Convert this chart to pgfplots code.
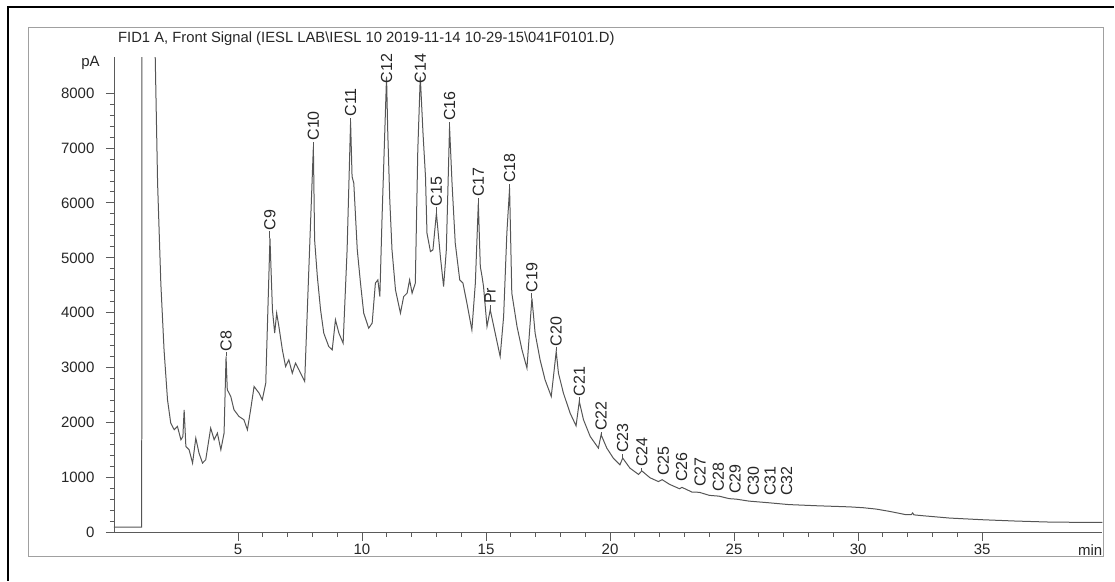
\documentclass[border=0pt]{standalone}
\usepackage{fontspec}
\setmainfont{Liberation Sans}
\usepackage{pgfplots}
\pgfplotsset{compat=1.18}
\definecolor{curve}{HTML}{555555}
\definecolor{txt}{HTML}{262626}
\definecolor{ax}{HTML}{5A5A5A}
\definecolor{framec}{HTML}{A0A0A0}
\newcommand{\lbl}{\fontsize{16}{18}\selectfont}
\newcommand{\pk}[4]{\draw[curve, line width=1pt] (axis cs:#1,#2) -- ++(0pt,#3pt) node[rotate=90, anchor=west, inner sep=0.6pt, font=\lbl, text=txt] {#4};}
\newcommand{\pl}[3]{\node[rotate=90, anchor=west, inner sep=0.6pt, font=\lbl, text=txt] at (axis cs:#1,#2) {#3};}
\begin{document}
\begin{tikzpicture}[x=1pt,y=1pt]
\path (0,0) rectangle (1115,581);
\draw[black, line width=1.2pt] (8,0) -- (8,574) -- (1115,574);
\draw[framec, line width=1pt] (29,24) rectangle (1104,553);
\node[anchor=base west, font=\fontsize{14.8}{16}\selectfont, text=txt, inner sep=0] at (118,538) {FID1 A, Front Signal (IESL LAB\textbackslash IESL 10 2019-11-14 10-29-15\textbackslash 041F0101.D)};
\begin{axis}[
  at={(114pt,48pt)}, anchor=south west, scale only axis,
  width=989pt, height=475.75pt,
  xmin=0, xmax=39.85, ymin=0, ymax=8650,
  axis x line=bottom, axis y line=left,
  axis line style={-, ax, line width=0.8pt},
  xtick={5,10,...,35}, ytick={0,1000,...,8000},
  minor x tick num=4, minor y tick num=4,
  tick align=outside, major tick length=8pt, minor tick length=4pt,
  tick style={ax, line width=0.8pt},
  ticklabel style={font=\fontsize{15}{17}\selectfont, text=txt},
  yticklabel style={xshift=-8pt},
  /pgf/number format/assume math mode=true,
  /pgf/number format/1000 sep={},
  clip mode=individual,
]
\addplot[curve, line width=1pt, mark=none] coordinates {
(0,100) (1.12,100) (1.13,14000) (1.64,14000) (1.65,9000) (1.76,6358) (1.89,4540)
(2.02,3327) (2.16,2418) (2.29,1994) (2.43,1873) (2.56,1933) (2.70,1691) (2.78,1750)
(2.83,2236) (2.90,1570) (3.03,1509) (3.17,1267) (3.30,1721) (3.43,1448) (3.57,1267)
(3.70,1327) (3.90,1903) (4.04,1691) (4.17,1812) (4.31,1509) (4.44,1812) (4.52,3206)
(4.57,2600) (4.71,2479) (4.84,2236) (5.04,2115) (5.24,2055) (5.38,1873) (5.51,2236)
(5.65,2660) (5.85,2540) (5.98,2418) (6.12,2721) (6.29,5358) (6.39,4055) (6.48,3630)
(6.56,3994) (6.65,3751) (6.79,3327) (6.92,3024) (7.05,3145) (7.19,2903) (7.32,3085)
(7.46,2963) (7.69,2751) (8.04,7024) (8.09,5327) (8.20,4660) (8.33,4055) (8.46,3630)
(8.66,3387) (8.80,3327) (8.93,3873) (9.07,3630) (9.24,3448) (9.40,5145) (9.54,7478)
(9.60,6478) (9.67,6358) (9.81,5145) (9.94,4540) (10.07,3994) (10.27,3721) (10.41,3812)
(10.54,4540) (10.64,4600) (10.72,4296) (10.81,5751) (10.99,8297) (11.04,7267) (11.12,6055)
(11.21,5145) (11.35,4418) (11.55,3994) (11.68,4296) (11.82,4358) (11.92,4600) (12.02,4358)
(12.15,4540) (12.25,6964) (12.35,8297) (12.46,7267) (12.56,6478) (12.62,5449) (12.76,5115)
(12.86,5145) (13.00,5812) (13.16,5024) (13.29,4478) (13.40,5145) (13.53,7387) (13.63,6358)
(13.76,5267) (13.94,4600) (14.07,4540) (14.23,4176) (14.43,3690) (14.57,4540) (14.69,6000)
(14.77,4842) (14.84,4660) (14.90,4478) (15.04,3751) (15.17,4055) (15.37,3630) (15.57,3206)
(15.71,3933) (15.84,5449) (15.95,6270) (16.04,4358) (16.25,3751) (16.45,3327) (16.65,2994)
(16.85,4267) (16.98,3630) (17.18,3145) (17.38,2782) (17.63,2479) (17.83,3297) (17.92,2903)
(18.12,2540) (18.39,2176) (18.63,1945) (18.76,2388) (18.93,2055) (19.20,1751) (19.53,1539)
(19.64,1782) (19.87,1539) (20.13,1358) (20.40,1236) (20.51,1358) (20.80,1176) (21.15,1060)
(21.28,1125) (21.61,1000) (21.95,930) (22.10,965) (22.40,880) (22.80,800) (22.90,825)
(23.30,740) (23.60,735) (24.00,680) (24.40,665) (24.80,620) (25.10,610) (25.60,575)
(26.40,545) (27.20,512) (28.30,491) (29.66,470) (30.20,455) (30.73,430) (31.27,388)
(31.94,327) (32.15,330) (32.20,360) (32.25,325) (32.61,309) (33.68,267) (35.02,236)
(36.37,212) (37.70,194) (39.05,188) (39.85,188)
};
\pk{4.52}{3206}{4}{C8}
\pk{6.29}{5358}{7}{C9}
\pk{8.04}{7024}{5}{C10}
\pk{9.54}{7478}{4}{C11}
\pl{10.99}{8164}{C12}
\pl{12.35}{8164}{C14}
\pk{13.00}{5812}{6}{C15}
\pk{13.53}{7387}{5}{C16}
\pk{14.69}{6000}{5}{C17}
\pk{15.17}{4055}{5}{Pr}
\pk{15.95}{6270}{4}{C18}
\pk{16.85}{4267}{5}{C19}
\pk{17.83}{3297}{4}{C20}
\pk{18.76}{2388}{4}{C21}
\pk{19.64}{1782}{3}{C22}
\pk{20.51}{1358}{4}{C23}
\pk{21.28}{1125}{3}{C24}
\pl{22.15}{1018}{C25}
\pl{22.89}{909}{C26}
\pl{23.63}{818}{C27}
\pl{24.37}{727}{C28}
\pl{25.04}{691}{C29}
\pl{25.78}{655}{C30}
\pl{26.45}{655}{C31}
\pl{27.12}{655}{C32}
\node[anchor=east, font=\fontsize{15}{17}\selectfont, text=txt, inner sep=0] at ([xshift=-14pt]axis cs:0,8545) {pA};
\node[anchor=east, font=\fontsize{15}{17}\selectfont, text=txt, inner sep=0] at ([yshift=-17pt]rel axis cs:1,0) {min};
\end{axis}
\end{tikzpicture}
\end{document}
